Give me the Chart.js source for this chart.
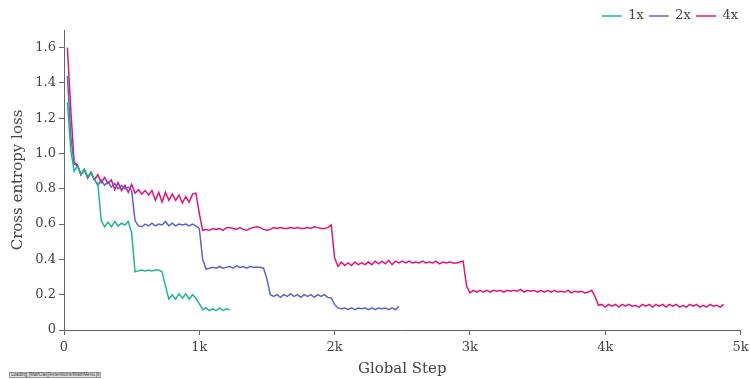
<!DOCTYPE html>
<html>
<head>
<meta charset="utf-8">
<script src="https://cdn.jsdelivr.net/npm/chart.js@4.4.1/dist/chart.umd.min.js"></script>
<style>
  body { margin: 0; background: #fff; }
  #wrap { position: relative; width: 750px; height: 379px; }
  #mj {
    position: absolute; left: 9px; top: 372px;
    font: 4.6px sans-serif; line-height: 4px; color: #333;
    background: #e4e4e4; border: 1px solid #959595;
    padding: 0 1px; white-space: nowrap;
  }
</style>
</head>
<body>
<div id="wrap">
  <canvas id="lossChart" width="750" height="379"></canvas>
  <div id="mj">Loading [MathJax]/extensions/MathMenu.js</div>
</div>
<script>
// loss logged every 25 global steps, starting at step 25
const FIRST_STEP = 25;
const STEP_EVERY = 25;

const seriesNames = ['1x', '2x', '4x'];

const loss1x = [
  1.29, 1.02, 0.90, 0.93, 0.88, 0.91, 0.87, 0.89, 0.85, 0.83,
  0.62, 0.585, 0.61, 0.585, 0.615, 0.59, 0.605, 0.595, 0.615, 0.55,
  0.33, 0.335, 0.34, 0.335, 0.34, 0.335, 0.34, 0.34, 0.33, 0.25,
  0.175, 0.20, 0.175, 0.205, 0.18, 0.205, 0.175, 0.20, 0.18, 0.15,
  0.115, 0.125, 0.11, 0.12, 0.11, 0.125, 0.11, 0.12, 0.115
];

const loss2x = [
  1.44, 1.10, 0.94, 0.93, 0.88, 0.91, 0.86, 0.89, 0.85, 0.82,
  0.85, 0.82, 0.84, 0.81, 0.83, 0.80, 0.82, 0.80, 0.81, 0.79,
  0.62, 0.59, 0.585, 0.60, 0.59, 0.605, 0.59, 0.60, 0.595, 0.615,
  0.59, 0.605, 0.59, 0.60, 0.595, 0.60, 0.59, 0.60, 0.59, 0.575,
  0.40, 0.345, 0.35, 0.355, 0.35, 0.36, 0.35, 0.355, 0.36, 0.35,
  0.365, 0.355, 0.36, 0.35, 0.36, 0.355, 0.355, 0.355, 0.35, 0.29,
  0.20, 0.19, 0.20, 0.185, 0.20, 0.19, 0.205, 0.19, 0.20, 0.185,
  0.20, 0.19, 0.20, 0.185, 0.20, 0.19, 0.20, 0.185, 0.18, 0.145,
  0.125, 0.12, 0.125, 0.115, 0.125, 0.115, 0.125, 0.12, 0.125, 0.115,
  0.125, 0.115, 0.125, 0.12, 0.125, 0.115, 0.125, 0.115, 0.135
];

const loss4x = [
  1.60, 1.25, 0.95, 0.935, 0.88, 0.91, 0.865, 0.895, 0.85, 0.88,
  0.835, 0.865, 0.83, 0.85, 0.795, 0.835, 0.79, 0.82, 0.78, 0.825,
  0.775, 0.795, 0.77, 0.79, 0.765, 0.79, 0.735, 0.78, 0.725, 0.78,
  0.735, 0.77, 0.735, 0.765, 0.72, 0.755, 0.725, 0.77, 0.775, 0.66,
  0.565, 0.57, 0.565, 0.575, 0.57, 0.575, 0.565, 0.58, 0.58, 0.575,
  0.57, 0.58, 0.57, 0.565, 0.575, 0.58, 0.585, 0.58, 0.57, 0.565,
  0.57, 0.58, 0.575, 0.58, 0.575, 0.575, 0.58, 0.575, 0.58, 0.575,
  0.575, 0.58, 0.575, 0.585, 0.58, 0.575, 0.575, 0.58, 0.595, 0.41,
  0.36, 0.385, 0.365, 0.38, 0.365, 0.385, 0.37, 0.38, 0.37, 0.385,
  0.37, 0.39, 0.375, 0.39, 0.375, 0.395, 0.37, 0.39, 0.38, 0.39,
  0.38, 0.39, 0.38, 0.385, 0.38, 0.39, 0.38, 0.385, 0.38, 0.39,
  0.375, 0.385, 0.38, 0.385, 0.38, 0.38, 0.385, 0.39, 0.25, 0.21,
  0.225, 0.215, 0.225, 0.215, 0.225, 0.215, 0.225, 0.22, 0.225, 0.215,
  0.225, 0.22, 0.225, 0.22, 0.23, 0.215, 0.225, 0.22, 0.225, 0.215,
  0.225, 0.215, 0.225, 0.215, 0.225, 0.215, 0.22, 0.215, 0.225, 0.21,
  0.22, 0.215, 0.22, 0.21, 0.215, 0.225, 0.19, 0.14, 0.145, 0.13,
  0.145, 0.135, 0.145, 0.13, 0.145, 0.135, 0.145, 0.135, 0.14, 0.13,
  0.145, 0.135, 0.145, 0.13, 0.145, 0.135, 0.145, 0.13, 0.145, 0.135,
  0.145, 0.13, 0.14, 0.13, 0.145, 0.135, 0.145, 0.13, 0.14, 0.13,
  0.145, 0.135, 0.14, 0.13, 0.145
];

const colors = ['#1fb597', '#5a64c6', '#e3137b'];

const toPoints = vals => vals.map((v, i) => ({ x: FIRST_STEP + i * STEP_EVERY, y: v }));

const FONT = 'DejaVu Serif';
const AXIS = '#666';
const TEXT = '#444';

// move the legend a little down after layout
const legendNudge = {
  id: 'legendNudge',
  afterLayout(chart) {
    const l = chart.legend;
    l.top += 2.5; l.bottom += 2.5;
  }
};

new Chart(document.getElementById('lossChart').getContext('2d'), {
  type: 'line',
  data: {
    datasets: [loss1x, loss2x, loss4x].map((vals, i) => ({
      label: seriesNames[i],
      data: toPoints(vals),
      borderColor: colors[i],
      backgroundColor: colors[i],
      borderWidth: 1.5,
      pointRadius: 0,
      tension: 0,
      fill: false
    }))
  },
  plugins: [legendNudge],
  options: {
    responsive: false,
    animation: false,
    layout: { padding: { left: 0, right: 7, top: 2, bottom: 0 } },
    plugins: {
      tooltip: { enabled: false },
      legend: {
        position: 'top',
        align: 'end',
        labels: {
          usePointStyle: true,
          pointStyle: 'line',
          pointStyleWidth: 20,
          padding: 5,
          color: TEXT,
          font: { family: FONT, size: 13 }
        }
      }
    },
    scales: {
      x: {
        type: 'linear',
        min: 0,
        max: 5000,
        ticks: {
          stepSize: 1000,
          color: TEXT,
          padding: 5,
          font: { family: FONT, size: 13 },
          callback: v => v === 0 ? '0' : (v / 1000) + 'k'
        },
        grid: { drawOnChartArea: false, drawTicks: true, tickLength: 5, color: AXIS },
        border: { color: AXIS, width: 1 },
        title: {
          display: true,
          text: 'Global Step',
          color: TEXT,
          font: { family: FONT, size: 15 },
          padding: { top: 0, bottom: 1 }
        },
        afterFit: scale => {
          scale.height = 49;
          scale.paddingRight = 9.5;
        }
      },
      y: {
        min: 0,
        max: 1.7,
        ticks: {
          stepSize: 0.2,
          color: TEXT,
          padding: 3,
          font: { family: FONT, size: 13 }
        },
        afterBuildTicks: scale => {
          scale.ticks = scale.ticks.filter(t => t.value <= 1.6001);
        },
        grid: { drawOnChartArea: false, drawTicks: true, tickLength: 5, color: AXIS },
        border: { color: AXIS, width: 1 },
        title: {
          display: true,
          text: 'Cross entropy loss',
          color: TEXT,
          font: { family: FONT, size: 15 },
          padding: { top: 9, bottom: 0 }
        },
        afterFit: scale => { scale.width = 64; }
      }
    }
  }
});
</script>
</body>
</html>
